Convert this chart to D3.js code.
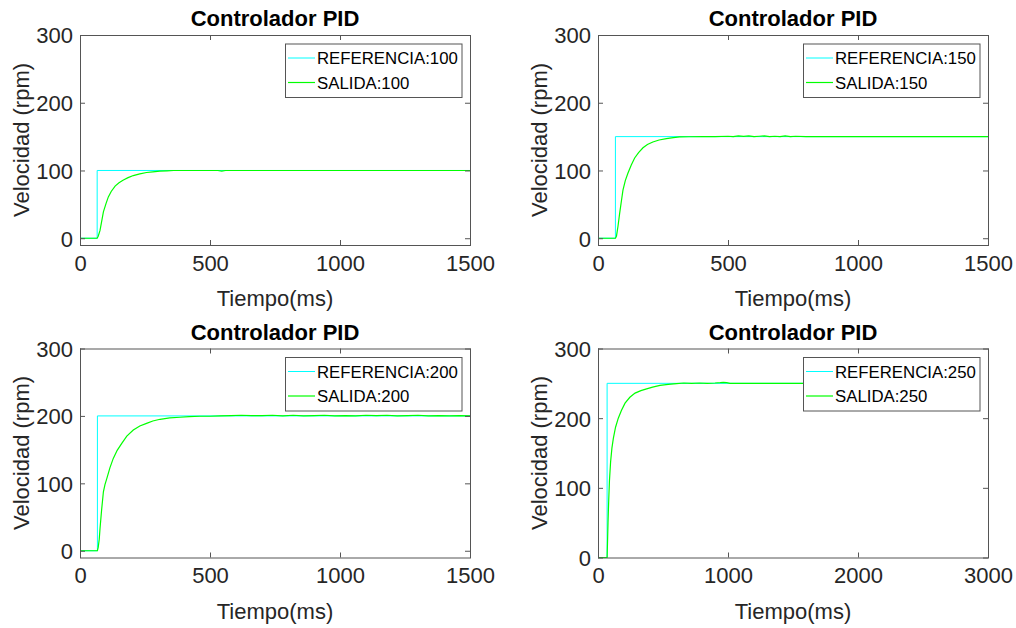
<!DOCTYPE html>
<html>
<head>
<meta charset="utf-8">
<script src="https://cdn.jsdelivr.net/npm/d3@7"></script>
<style>
  body { margin: 0; background: #fff; }
  text { font-family: "Liberation Sans", Arial, Helvetica, sans-serif; }
</style>
</head>
<body>
<div id="chart"></div>
<script>
// step time (ms) and setpoint of every test
const referencias = [100, 150, 200, 250]
const tiempoEscalon = [66, 67, 67, 70]

const tiempo100 = [0, 66, 70, 77, 83, 90, 100, 109, 120, 135, 150, 167, 185, 205, 230, 256, 280, 307, 335, 360, 400, 450, 500, 530, 545, 560, 600, 700, 800, 900, 1000, 1100, 1200, 1300, 1400, 1500]
const salida100 = [0, 0, 3, 11.5, 24, 39, 51, 61, 69, 77, 82, 86, 89.5, 92.5, 95, 97, 98, 99, 99.5, 100, 100, 100, 100, 100, 99, 100, 100, 100, 100, 100, 100, 100, 100, 100, 100, 100]

const tiempo150 = [0, 67, 71, 77, 83, 90, 96, 105, 115, 128, 141, 156, 173, 190, 211, 235, 263, 290, 314, 350, 404, 450, 500, 520, 540, 560, 580, 600, 620, 640, 660, 680, 700, 720, 740, 760, 800, 900, 1000, 1200, 1500]
const salida150 = [0, 0, 3, 18, 36, 55, 71, 85, 96, 108, 118.5, 126.5, 133.5, 138.5, 142, 145, 147, 148.5, 149.5, 149.8, 150, 150, 150.5, 150, 151, 150.5, 151, 150, 150.5, 151, 150, 150.5, 150, 151, 150, 150.5, 150, 150, 150, 150, 150]

const tiempo200 = [0, 67, 70, 74, 77, 83, 90, 96, 103, 115, 128, 143, 160, 180, 205, 230, 256, 280, 308, 345, 385, 420, 461, 500, 540, 580, 620, 660, 700, 740, 780, 820, 860, 900, 940, 980, 1020, 1060, 1100, 1140, 1180, 1220, 1260, 1300, 1340, 1380, 1420, 1460, 1500]
const salida200 = [0, 0, 5, 17, 33, 60, 87.5, 98, 107, 123, 137, 149, 159, 170, 179, 185, 189, 192.5, 195, 197, 198, 199, 199.5, 199.5, 200, 200.5, 201, 200.5, 200.5, 201, 200, 201, 200, 200.5, 201, 200, 200.5, 200, 201, 200.5, 201, 200, 200.5, 201, 200, 200.5, 200, 200.5, 200]

const tiempo250 = [0, 70, 73, 77, 82, 88, 97, 107, 118, 135, 156, 180, 208, 245, 285, 330, 374, 420, 477, 540, 605, 660, 720, 780, 840, 900, 940, 964, 990, 1015, 1100, 1300, 1500, 1700, 2000]
const salida250 = [0, 0, 20, 50, 80, 110, 137.5, 157, 171, 187, 200, 211, 221.5, 230, 236, 239.5, 242, 244.5, 247, 248.5, 249.5, 250.5, 250, 250.5, 250, 250.5, 251, 251.5, 251, 250, 250, 250, 250, 250, 250]

const tiempos = [tiempo100, tiempo150, tiempo200, tiempo250]
const salidas = [salida100, salida150, salida200, salida250]

// axes limits and ticks
const xMax = [1500, 1500, 1500, 3000]
const yMin = [-10, -10, -10, 0]
const yTicks = [0, 100, 200, 300]
const xTicks = [[0, 500, 1000, 1500], [0, 500, 1000, 1500], [0, 500, 1000, 1500], [0, 1000, 2000, 3000]]

const width = 1016
const height = 628
const panels = [
  {left: 80, top: 35, w: 390, h: 210},
  {left: 598, top: 35, w: 390, h: 210},
  {left: 80, top: 348.5, w: 390, h: 209},
  {left: 598, top: 348.5, w: 390, h: 209}
]
const axisColor = '#262626'
const boxColor = '#555'
const fmt = d3.format('d')

const svg = d3.select('#chart').append('svg')
  .attr('width', width)
  .attr('height', height)

function drawPanel(i) {
  const p = panels[i]
  const ref = referencias[i]
  const t0 = tiempoEscalon[i]

  const x = d3.scaleLinear().domain([0, xMax[i]]).range([0, p.w])
  const y = d3.scaleLinear().domain([yMin[i], 300]).range([p.h, 0])

  const tEnd = tiempos[i][tiempos[i].length - 1]
  const refData = [[0, 0], [t0, 0], [t0, ref], [tEnd, ref]]
  const outData = tiempos[i].map((t, k) => [t, salidas[i][k]])

  const line = d3.line()
    .x(d => x(d[0]))
    .y(d => y(d[1]))

  const g = svg.append('g').attr('transform', `translate(${p.left},${p.top})`)

  g.append('path')
    .datum(refData)
    .attr('fill', 'none')
    .attr('stroke', '#00ffff')
    .attr('stroke-width', 1)
    .attr('d', line)

  g.append('path')
    .datum(outData)
    .attr('fill', 'none')
    .attr('stroke', '#00ff00')
    .attr('stroke-width', 1.2)
    .attr('d', line)

  // ticks inside, on all four sides
  g.append('g')
    .attr('transform', `translate(0,${p.h})`)
    .call(d3.axisBottom(x).tickValues(xTicks[i]).tickFormat(fmt).tickSize(-5).tickSizeOuter(0).tickPadding(10))
  const yAxis = g.append('g')
    .call(d3.axisLeft(y).tickValues(yTicks).tickFormat(fmt).tickSize(-5).tickSizeOuter(0).tickPadding(7))
  g.append('g')
    .call(d3.axisTop(x).tickValues(xTicks[i]).tickSize(-5).tickSizeOuter(0).tickFormat(''))
  g.append('g')
    .attr('transform', `translate(${p.w},0)`)
    .call(d3.axisRight(y).tickValues(yTicks).tickSize(-5).tickSizeOuter(0).tickFormat(''))

  g.selectAll('.domain').remove()
  g.selectAll('.tick line').attr('stroke', boxColor)
  g.selectAll('.tick text')
    .attr('fill', axisColor)
    .style('font-size', '22px')
  yAxis.selectAll('.tick text').attr('dy', '0.36em')

  g.append('rect')
    .attr('x', 0.5)
    .attr('y', 0.5)
    .attr('width', p.w)
    .attr('height', p.h)
    .attr('fill', 'none')
    .attr('stroke', boxColor)

  g.append('text')
    .attr('x', p.w / 2)
    .attr('y', -9)
    .attr('text-anchor', 'middle')
    .style('font-size', '22px')
    .style('font-weight', 'bold')
    .attr('fill', '#000')
    .text('Controlador PID')

  g.append('text')
    .attr('x', p.w / 2)
    .attr('y', p.h + 61)
    .attr('text-anchor', 'middle')
    .style('font-size', '22px')
    .attr('fill', axisColor)
    .text('Tiempo(ms)')

  g.append('text')
    .attr('transform', `translate(-51.5,${p.h / 2}) rotate(-90)`)
    .attr('text-anchor', 'middle')
    .style('font-size', '22px')
    .attr('fill', axisColor)
    .text('Velocidad (rpm)')

  // legend
  const leg = g.append('g').attr('transform', `translate(${p.w - 185},8.5)`)
  leg.append('rect')
    .attr('x', 0.5)
    .attr('y', 0.5)
    .attr('width', 176.5)
    .attr('height', 53.5)
    .attr('fill', '#fff')
    .attr('stroke', boxColor)

  const entries = [
    {label: 'REFERENCIA:' + ref, color: '#00ffff', sw: 1},
    {label: 'SALIDA:' + ref, color: '#00ff00', sw: 1.2}
  ]
  entries.forEach((e, k) => {
    const yy = 14.5 + k * 24.5
    leg.append('line')
      .attr('x1', 3).attr('x2', 30)
      .attr('y1', yy).attr('y2', yy)
      .attr('stroke', e.color)
      .attr('stroke-width', e.sw)
    leg.append('text')
      .attr('x', 32)
      .attr('y', yy)
      .attr('dy', '0.36em')
      .style('font-size', '16.8px')
      .attr('fill', '#000')
      .text(e.label)
  })
}

referencias.forEach((r, i) => drawPanel(i))
</script>
</body>
</html>
